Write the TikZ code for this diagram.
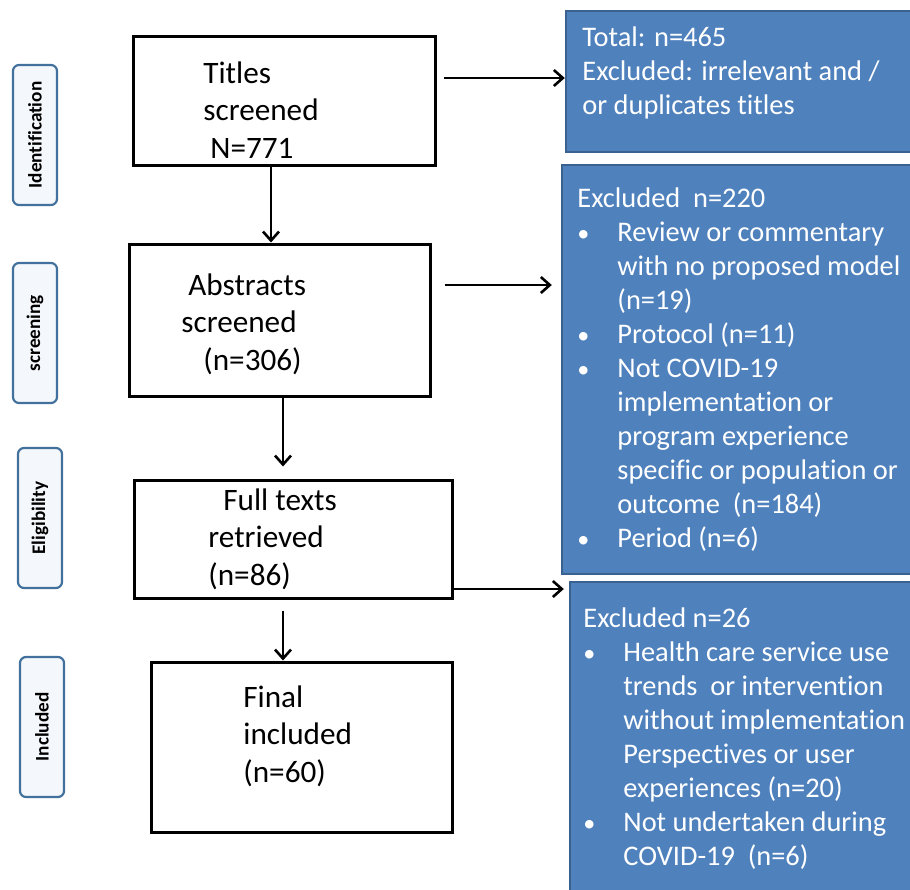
\documentclass[tikz,border=0pt]{standalone}
\usepackage{fontspec}
\setmainfont{Carlito}[Ligatures=NoCommon]
\usetikzlibrary{arrows.meta, positioning}

\definecolor{exblue}{HTML}{4F81BD}
\definecolor{exedge}{HTML}{3A6190}
\definecolor{tagedge}{HTML}{41719C}
\definecolor{tagfill}{HTML}{F4F7FB}

\newcommand{\bitem}[1]{\makebox[20pt][l]{\scalebox{0.85}{\textbullet}}#1}
\newcommand{\bcont}[1]{\hspace*{20pt}#1}

\begin{document}
\begin{tikzpicture}[x=0.5pt, y=-0.5pt,
  stagebox/.style={draw, line width=1.5pt, fill=white},
  stagetext/.style={anchor=north west, align=left, inner sep=0pt, font=\fontsize{15.6}{18.75}\selectfont},
  exbox/.style={draw=exedge, line width=1.2pt, fill=exblue},
  extext/.style={anchor=north west, align=left, inner sep=0pt, text=white, font=\fontsize{14.2}{17}\selectfont},
  tagbox/.style={draw=tagedge, line width=1.1pt, fill=tagfill, rounded corners=3pt, rotate=90, minimum width=70pt, minimum height=22pt, inner sep=0pt, font=\fontsize{9.6}{11}\selectfont\bfseries},
  flow/.style={-{Straight Barb[length=4.5pt,width=8pt]}, line width=1.3pt}]
  \useasboundingbox (0,0) rectangle (910,889);
  \clip (0,0) rectangle (910,889);

  % stages
  \node (titles) [stagebox, minimum width=151pt, minimum height=64.5pt] at (284,100.5) {};
  \node (abstracts) [stagebox, minimum width=150.5pt, minimum height=76pt] at (279.5,320) {};
  \node (fulltexts) [stagebox, minimum width=159pt, minimum height=59pt] at (293,539) {};
  \node (final) [stagebox, minimum width=150.5pt, minimum height=85pt] at (301.5,747) {};

  \node (titlestext) [stagetext] at (203,61) {Titles\\screened\\\hspace*{3.5pt}N=771};
  \node (abstractstext) [stagetext] at (181,273) {\hspace*{3.5pt}Abstracts\\screened\\\hspace*{11pt}(n=306)};
  \node (fulltextstext) [stagetext] at (208,488) {\hspace*{7.5pt}Full texts\\retrieved\\(n=86)};
  \node (finaltext) [stagetext] at (243,685) {Final\\included\\(n=60)};

  % exclusions
  \node (total) [exbox, minimum width=174.5pt, minimum height=70.5pt] at (740.5,81.5) {};
  \node (excl220) [exbox, minimum width=176.5pt, minimum height=204.5pt] at (738.5,369.5) {};
  \node (excl26) [exbox, minimum width=172.5pt, minimum height=156.5pt] at (742.5,738.5) {};

  \node (totaltext) [extext] at (582,26) {Total: n=465\\Excluded: irrelevant and /\\or duplicates titles};
  \node (excl220text) [extext] at (577,187) {Excluded~~n=220\\\bitem{Review or commentary}\\\bcont{with no proposed model}\\\bcont{(n=19)}\\\bitem{Protocol (n=11)}\\\bitem{Not COVID-19}\\\bcont{implementation or}\\\bcont{program experience}\\\bcont{specific or population or}\\\bcont{outcome~~(n=184)}\\\bitem{Period (n=6)}};
  \node (excl26text) [extext] at (583,607) {Excluded n=26\\\bitem{Health care service use}\\\bcont{trends~~or intervention}\\\bcont{without implementation}\\\bcont{Perspectives or user}\\\bcont{experiences (n=20)}\\\bitem{Not undertaken during}\\\bcont{COVID-19~~(n=6)}};

  % phase tags
  \node (ident) [tagbox] at (35,135) {Identification};
  \node (screen) [tagbox] at (35,333) {screening};
  \node (elig) [tagbox] at (40,518) {Eligibility};
  \node (incl) [tagbox] at (42,727) {Included};

  % arrows
  \draw[flow] ([xshift=-6.5pt]titles.south) -- ([xshift=-6.5pt]titles.south |- abstracts.north);
  \draw[flow, shorten >=6pt] ([xshift=1.75pt]abstracts.south) -- ([xshift=1.75pt]abstracts.south |- fulltexts.north);
  \draw[flow, shorten <=5.5pt] ([xshift=-5pt]fulltexts.south) -- ([xshift=-5pt]fulltexts.south |- final.north);
  \draw[flow, shorten <=3.5pt] ([yshift=11.25pt]titles.east) -- ([yshift=11.25pt]titles.east -| total.west);
  \draw[flow, shorten <=6.5pt, shorten >=4.5pt] ([yshift=17.5pt]abstracts.east) -- ([yshift=17.5pt]abstracts.east -| excl220.west);
  \draw[flow, shorten >=2.5pt] ([yshift=-25pt]fulltexts.east) -- ([yshift=-25pt]fulltexts.east -| excl26.west);
\end{tikzpicture}
\end{document}
